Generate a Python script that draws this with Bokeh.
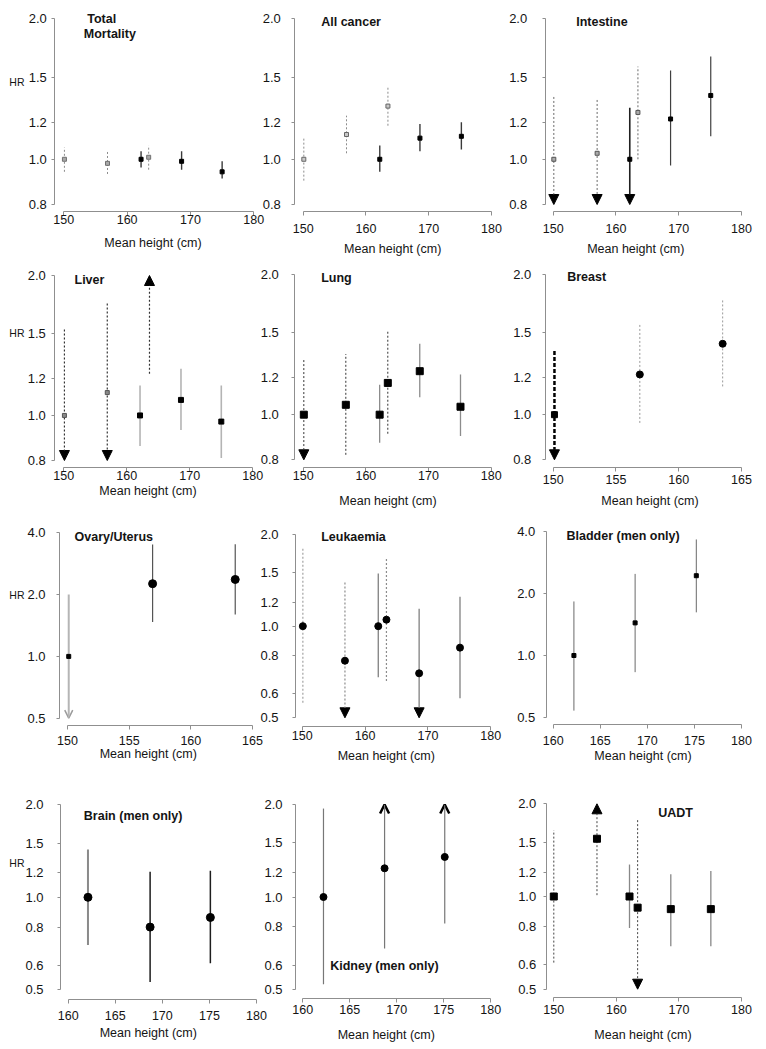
import math
from bokeh.plotting import figure
from bokeh.models import (Range1d, FixedTicker, PrintfTickFormatter, Label, Arrow, NormalHead,
                          OpenHead, LinearAxis, LogAxis, LogScale, Grid)
from bokeh.embed import file_html
from bokeh.resources import INLINE

# ---------------- data (HR with 95% CI; None = beyond the axis) ----------------
tm_height = [150.1, 156.9, 162.2, 163.4, 168.6, 175.0]
tm_sex = ["W", "W", "M", "W", "M", "M"]
tm_hr = [1.00, 0.98, 1.00, 1.01, 0.99, 0.94]
tm_lo = [0.94, 0.93, 0.96, 0.95, 0.95, 0.91]
tm_hi = [1.06, 1.04, 1.04, 1.07, 1.04, 0.99]

ac_height = [150.1, 156.9, 162.2, 163.5, 168.6, 175.2]
ac_sex = ["W", "W", "M", "W", "M", "M"]
ac_hr = [1.00, 1.13, 1.00, 1.30, 1.11, 1.12]
ac_lo = [0.90, 1.03, 0.94, 1.18, 1.04, 1.05]
ac_hi = [1.11, 1.24, 1.07, 1.43, 1.19, 1.20]

in_height = [150.1, 157.0, 162.2, 163.5, 168.7, 175.1]
in_sex = ["W", "W", "M", "W", "M", "M"]
in_hr = [1.00, 1.03, 1.00, 1.26, 1.22, 1.37]
in_lo = [None, None, None, 1.00, 0.97, 1.12]
in_hi = [1.36, 1.34, 1.29, 1.58, 1.55, 1.66]

li_height = [150.1, 156.9, 162.1, 163.6, 168.6, 175.0]
li_sex = ["W", "W", "M", "W", "M", "M"]
li_hr = [1.00, 1.12, 1.00, None, 1.08, 0.97]
li_lo = [None, None, 0.86, 1.23, 0.93, 0.81]
li_hi = [1.53, 1.74, 1.16, None, 1.26, 1.16]

lu_height = [150.1, 156.8, 162.2, 163.5, 168.6, 175.1]
lu_sex = ["W", "W", "M", "W", "M", "M"]
lu_hr = [1.00, 1.05, 1.00, 1.17, 1.24, 1.04]
lu_lo = [None, 0.82, 0.87, 0.91, 1.09, 0.90]
lu_hi = [1.31, 1.35, 1.16, 1.52, 1.42, 1.22]

br_height = [150.1, 156.9, 163.5]
br_sex = ["W", "W", "W"]
br_hr = [1.00, 1.22, 1.42]
br_lo = [None, 0.96, 1.15]
br_hi = [1.37, 1.56, 1.76]

ov_height = [150.1, 156.9, 163.6]
ov_sex = ["W", "W", "W"]
ov_hr = [1.00, 2.26, 2.37]
ov_lo = [None, 1.47, 1.60]
ov_hi = [2.00, 3.51, 3.52]

le_height = [150.1, 156.8, 162.1, 163.4, 168.6, 175.1]
le_sex = ["W", "W", "M", "W", "M", "M"]
le_hr = [1.00, 0.77, 1.00, 1.05, 0.70, 0.85]
le_lo = [0.56, None, 0.68, 0.66, None, 0.58]
le_hi = [1.80, 1.39, 1.49, 1.68, 1.14, 1.25]

bl_height = [162.2, 168.7, 175.2]
bl_sex = ["M", "M", "M"]
bl_hr = [1.00, 1.44, 2.44]
bl_lo = [0.54, 0.83, 1.62]
bl_hi = [1.83, 2.49, 3.66]

bn_height = [162.1, 168.7, 175.1]
bn_sex = ["M", "M", "M"]
bn_hr = [1.00, 0.80, 0.86]
bn_lo = [0.70, 0.53, 0.61]
bn_hi = [1.43, 1.21, 1.22]

ki_height = [162.2, 168.7, 175.1]
ki_sex = ["M", "M", "M"]
ki_hr = [1.00, 1.24, 1.35]
ki_lo = [0.52, 0.68, 0.82]
ki_hi = [1.94, None, None]

ua_height = [150.0, 156.9, 162.1, 163.4, 168.7, 175.1]
ua_sex = ["W", "W", "M", "W", "M", "M"]
ua_hr = [1.00, 1.54, 1.00, 0.92, 0.91, 0.91]
ua_lo = [0.61, 1.01, 0.79, None, 0.69, 0.69]
ua_hi = [1.64, None, 1.27, 1.77, 1.18, 1.21]

Y_TICKS_A = [0.8, 1.0, 1.2, 1.5, 2.0]
Y_TICKS_B = [0.5, 0.6, 0.8, 1.0, 1.2, 1.5, 2.0]
Y_TICKS_C = [0.5, 1.0, 2.0, 4.0]
X_TICKS_A = [150, 160, 170, 180]
X_TICKS_B = [150, 155, 160, 165]
X_TICKS_C = [160, 165, 170, 175, 180]
X_TITLE = "Mean height (cm)"
Y_TITLE = "HR"

# ---------------- layout / style ----------------
FONT = "Liberation Sans"
TXT = "#141414"
AXC = "#8f8f8f"
W, H = 766, 1048


def S(lc, lw, dash="solid", mk="square", ms=4, mf="black", ml=None,
      head="normal", hs=10, hc="black", hw=1):
    return dict(lc=lc, lw=lw, dash=dash, mk=mk, ms=ms, mf=mf, ml=ml or mf,
                head=head, hs=hs, hc=hc, hw=hw)


specs = [
    dict(data=(tm_height, tm_sex, tm_hr, tm_lo, tm_hi), ax=(54.3, 210.7),
         xcal=(150, 63.3, 180, 253.3), ycal=(2.0, 18.3, 0.8, 204.0),
         xt=X_TICKS_A, yt=Y_TICKS_A, ylg=7.6, xto=10.3, xl=(152.5, 242.3),
         titles=[("Total", 86.7, 18.3), ("Mortality", 83.3, 33.3)], hr=(24, 81),
         st={"W": S("#8c8c8c", 1, "2 2", ms=4, mf="#a8a8a8", ml="#707070"),
             "M": S("#3a3a3a", 1.4, ms=4)}),
    dict(data=(ac_height, ac_sex, ac_hr, ac_lo, ac_hi), ax=(294.3, 210.7),
         xcal=(150, 302.7, 180, 491.0), ycal=(2.0, 18.3, 0.8, 204.0),
         xt=X_TICKS_A, yt=Y_TICKS_A, ylg=14.3, xto=18.6, xl=(392.2, 248.3),
         titles=[("All cancer", 320.7, 21)],
         st={"W": S("#8c8c8c", 1, "2 2", ms=4, mf="#c8c8c8", ml="#666666"),
             "M": S("#3a3a3a", 1.4, ms=4)}),
    dict(data=(in_height, in_sex, in_hr, in_lo, in_hi), ax=(544.7, 210.7),
         xcal=(150, 552.7, 180, 741.0), ycal=(2.0, 18.3, 0.8, 204.0),
         xt=X_TICKS_A, yt=Y_TICKS_A, ylg=18.0, xto=19.3, xl=(635.3, 248.3),
         titles=[("Intestine", 575.7, 21)],
         st={"W": S("#6a6a6a", 1, "2 2", ms=4, mf="#aaaaaa", ml="#555555"),
             "M": S("#404040", 1.2, ms=4)},
         over={2: dict(lc="#202020", lw=1.6)}),
    dict(data=(li_height, li_sex, li_hr, li_lo, li_hi), ax=(54.3, 466.7),
         xcal=(150, 63.3, 180, 252.3), ycal=(2.0, 275.0, 0.8, 460.0),
         xt=X_TICKS_A, yt=Y_TICKS_A, ylg=8.6, xto=9.5, xl=(147.5, 490.5),
         titles=[("Liver", 74, 279)], hr=(24, 332),
         st={"W": S("#333333", 1.2, "2 2", ms=4, mf="#888888", ml="#555555"),
             "M": S("#b4b4b4", 1.6, ms=5)}),
    dict(data=(lu_height, lu_sex, lu_hr, lu_lo, lu_hi), ax=(294.3, 466.7),
         xcal=(150, 302.7, 180, 490.7), ycal=(2.0, 274.0, 0.8, 459.3),
         xt=X_TICKS_A, yt=Y_TICKS_A, ylg=16.0, xto=10.5, xl=(387.5, 500.7),
         titles=[("Lung", 320.7, 277.3)],
         st={"W": S("#333333", 1, "2 2", ms=7), "M": S("#8c8c8c", 1.3, ms=7)}),
    dict(data=(br_height, br_sex, br_hr, br_lo, br_hi), ax=(544.7, 466.7),
         xcal=(150, 552.7, 165, 741.0), ycal=(2.0, 274.0, 0.8, 459.3),
         xt=X_TICKS_B, yt=Y_TICKS_A, ylg=14.0, xto=14.0, xl=(649.5, 500.7),
         titles=[("Breast", 566.7, 276.7)],
         st={"W": S("#9a9a9a", 1, "2 2", mk="circle", ms=7)},
         over={0: dict(lc="black", lw=2.5, dash="4 2", mk="square", ms=6)}),
    dict(data=(ov_height, ov_sex, ov_hr, ov_lo, ov_hi), ax=(59.0, 725.0),
         xcal=(150, 67.0, 165, 252.0), ycal=(4.0, 532.3, 0.5, 717.7),
         xt=X_TICKS_B, yt=Y_TICKS_C, ylg=14.0, xto=16.0, xl=(147.8, 753.3),
         titles=[("Ovary/Uterus", 74, 536)], hr=(24, 594),
         st={"W": S("#555555", 1.2, mk="circle", ms=8)},
         over={0: dict(lc="#b5b5b5", lw=2, head="open", hs=8, hc="#9a9a9a", hw=1.5,
                       mk="square", ms=4)}),
    dict(data=(le_height, le_sex, le_hr, le_lo, le_hi), ax=(295.0, 725.7),
         xcal=(150, 301.7, 180, 490.3), ycal=(2.0, 534.0, 0.5, 717.3),
         xt=X_TICKS_A, yt=Y_TICKS_B, ylg=16.7, xto=11.0, xl=(385.8, 755.0),
         titles=[("Leukaemia", 320.7, 536)],
         st={"W": S("#8c8c8c", 1.2, "2 2", mk="circle", ms=7),
             "M": S("#808080", 1.3, mk="circle", ms=7)},
         over={0: dict(lc="#b5b5b5", lw=1.5)}),
    dict(data=(bl_height, bl_sex, bl_hr, bl_lo, bl_hi), ax=(545.7, 724.0),
         xcal=(160, 552.7, 180, 741.0), ycal=(4.0, 531.0, 0.5, 717.0),
         xt=X_TICKS_C, yt=Y_TICKS_C, ylg=10.7, xto=17.0, xl=(642.5, 755.0),
         titles=[("Bladder (men only)", 566, 535.7)],
         st={"M": S("#6a6a6a", 1, ms=4)}),
    dict(data=(bn_height, bn_sex, bn_hr, bn_lo, bn_hi), ax=(60.0, 999.3),
         xcal=(160, 67.7, 180, 256.0), ycal=(2.0, 804.3, 0.5, 989.3),
         xt=X_TICKS_C, yt=Y_TICKS_B, ylg=16.7, xto=17.4, xl=(147.8, 1032.7),
         titles=[("Brain (men only)", 83.3, 815)], hr=(24, 862),
         st={"M": S("#1e1e1e", 1.5, mk="circle", ms=8)},
         over={0: dict(lc="#8a8a8a", lw=2)}),
    dict(data=(ki_height, ki_sex, ki_hr, ki_lo, ki_hi), ax=(295.0, 998.3),
         xcal=(160, 302.3, 180, 490.3), ycal=(2.0, 804.0, 0.5, 989.0),
         xt=X_TICKS_C, yt=Y_TICKS_B, ylg=13.3, xto=12.4, xl=(385.8, 1034.3),
         titles=[("Kidney (men only)", 329.7, 965)],
         st={"M": S("#777777", 1.2, mk="circle", ms=7, head="open", hs=9, hc="black", hw=2.5)}),
    dict(data=(ua_height, ua_sex, ua_hr, ua_lo, ua_hi), ax=(545.7, 996.7),
         xcal=(150, 553.3, 180, 741.0), ycal=(2.0, 803.3, 0.5, 988.7),
         xt=X_TICKS_A, yt=Y_TICKS_B, ylg=9.7, xto=14.3, xl=(642.5, 1034.3),
         titles=[("UADT", 657.7, 812.3)],
         st={"W": S("#444444", 1, "2 2", ms=7), "M": S("#888888", 1.3, ms=7)}),
]

# one canvas for all 12 panels: default ranges are page pixels, each panel has its own ranges
p = figure(width=W, height=H, x_range=Range1d(0, W), y_range=Range1d(H, 0),
           x_axis_location=None, y_axis_location=None,
           output_backend="svg", toolbar_location=None,
           min_border_left=0, min_border_right=0, min_border_top=0, min_border_bottom=0)
p.outline_line_color = None
p.background_fill_color = "white"
p.border_fill_color = "white"
for g in p.select(type=Grid):
    g.visible = False
p.center = [r for r in p.center if not isinstance(r, Grid)]

xr, yr, ys = {}, {}, {}
cals = []
for k, spec in enumerate(specs):
    xv1, xp1, xv2, xp2 = spec["xcal"]
    kx = (xv2 - xv1) / (xp2 - xp1)
    yv1, yp1, yv2, yp2 = spec["ycal"]
    ky = (math.log(yv2) - math.log(yv1)) / (yp2 - yp1)
    fx = (lambda a, b, s: (lambda px: a + (px - b) * s))(xv1, xp1, kx)
    fy = (lambda a, b, s: (lambda py: math.exp(math.log(a) + (py - b) * s)))(yv1, yp1, ky)
    cals.append((fx, fy))
    xr["x%d" % k] = Range1d(fx(0), fx(W))
    yr["y%d" % k] = Range1d(fy(H), fy(0))
    ys["y%d" % k] = LogScale()
p.extra_x_ranges = xr
p.extra_y_ranges = yr
p.extra_y_scales = ys


def lab(text, px, py, align="left", size="12.5px", bold=False):
    p.add_layout(Label(x=px, y=py, text=text, text_align=align,
                       text_baseline="middle", text_font=FONT, text_font_size=size,
                       text_font_style="bold" if bold else "normal", text_color=TXT))


def style_axis(ax):
    ax.axis_line_color = AXC
    ax.axis_line_width = 1
    ax.major_tick_line_color = AXC
    ax.major_tick_in = 0
    ax.minor_tick_line_color = None
    ax.major_label_text_font = FONT
    ax.major_label_text_color = TXT


for k, spec in enumerate(specs):
    fx, fy = cals[k]
    rn = dict(x_range_name="x%d" % k, y_range_name="y%d" % k)
    axx, axy = spec["ax"]
    xt, yt = spec["xt"], spec["yt"]

    xa = LinearAxis(fixed_location=fy(axy), ticker=FixedTicker(ticks=xt),
                    bounds=(xt[0], xt[-1]), formatter=PrintfTickFormatter(format="%d"), **rn)
    style_axis(xa)
    xa.major_tick_out = 4
    xa.major_label_text_font_size = "12.5px"
    xa.major_label_standoff = max(0, int(round(spec["xto"] - 4 - 6)))
    p.add_layout(xa, "below")

    ya = LogAxis(fixed_location=fx(axx), ticker=FixedTicker(ticks=yt),
                 bounds=(yt[0], yt[-1]), formatter=PrintfTickFormatter(format="%.1f"), **rn)
    style_axis(ya)
    ya.major_tick_out = 3
    ya.major_label_text_font_size = "13px"
    ya.major_label_standoff = max(0, int(round(spec["ylg"] - 3)))
    p.add_layout(ya, "left")

    for t, px, py in spec["titles"]:
        lab(t, px, py, bold=True)
    lab(X_TITLE, spec["xl"][0], spec["xl"][1], align="center")
    if "hr" in spec:
        lab(Y_TITLE, spec["hr"][0], spec["hr"][1], align="right", size="10.5px")

    hs, sx, hr, lo, hi = spec["data"]
    ymin, ymax = yt[0], yt[-1]
    styles = []
    for i in range(len(hs)):
        st = dict(spec["st"][sx[i]])
        st.update(spec.get("over", {}).get(i, {}))
        styles.append(st)
    for i in range(len(hs)):
        st = styles[i]
        line = dict(line_color=st["lc"], line_width=st["lw"], line_dash=st["dash"])
        if lo[i] is None or hi[i] is None:
            start = hi[i] if lo[i] is None else lo[i]
            end = ymin if lo[i] is None else ymax
            if st["head"] == "normal":
                head = NormalHead(size=st["hs"], fill_color=st["hc"], line_color=st["hc"], line_width=1)
            else:
                head = OpenHead(size=st["hs"], line_color=st["hc"], line_width=st["hw"])
            p.add_layout(Arrow(x_start=hs[i], y_start=start, x_end=hs[i], y_end=end,
                               end=head, level="underlay", **line, **rn))
        else:
            p.segment(x0=[hs[i]], y0=[lo[i]], x1=[hs[i]], y1=[hi[i]], **line, **rn)
    for i in range(len(hs)):
        st = styles[i]
        if hr[i] is not None:
            p.scatter([hs[i]], [hr[i]], marker=st["mk"], size=st["ms"],
                      fill_color=st["mf"], line_color=st["ml"], line_width=1, **rn)

open("out.html", "w").write(file_html(p, INLINE))
